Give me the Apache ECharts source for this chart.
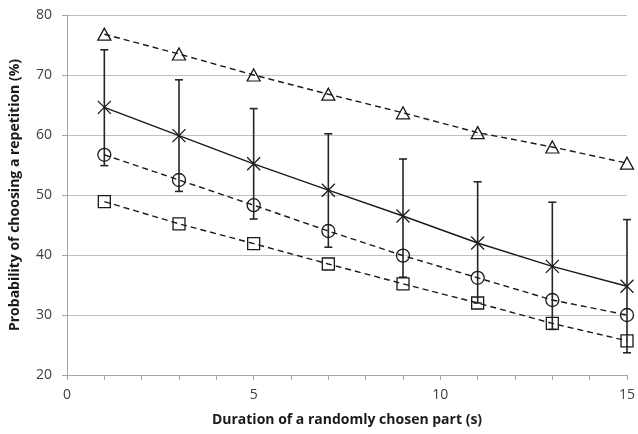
<!DOCTYPE html>
<html>
<head>
<meta charset="utf-8">
<script src="https://cdn.jsdelivr.net/npm/echarts@6/dist/echarts.min.js"></script>
<style>
html, body { margin: 0; padding: 0; background: #fff; }
#chart { width: 638px; height: 434px; }
</style>
</head>
<body>
<div id="chart"></div>
<script>
var durations = [1, 3, 5, 7, 9, 11, 13, 15];
var triangleVals = [76.8, 73.5, 70.0, 66.8, 63.7, 60.4, 58.0, 55.3];
var crossVals = [64.6, 59.9, 55.2, 50.8, 46.5, 42.0, 38.1, 34.8];
var crossUpper = [74.2, 69.2, 64.4, 60.2, 56.0, 52.2, 48.8, 45.9];
var crossLower = [54.9, 50.6, 46.0, 41.3, 36.3, 32.0, 27.6, 23.7];
var circleVals = [56.7, 52.5, 48.3, 44.0, 39.9, 36.2, 32.5, 30.0];
var squareVals = [48.9, 45.2, 41.9, 38.5, 35.2, 32.0, 28.6, 25.7];

function pairs(vals) {
	return durations.map(function (d, i) { return [d, vals[i]]; });
}

var errData = durations.map(function (d, i) { return [d, crossLower[i], crossUpper[i]]; });
var font = '"Open Sans", "Liberation Sans", sans-serif';
var hollow = { color: 'rgba(0,0,0,0)', borderColor: '#1a1a1a', borderWidth: 1.3 };

var chart = echarts.init(document.getElementById('chart'));
var option = {
	animation: false,
	textStyle: { fontFamily: font },
	grid: { left: 66, right: 9, top: 15, bottom: 59 },
	xAxis: {
		type: 'value',
		min: 0, max: 15, interval: 5,
		name: 'Duration of a randomly chosen part (s)',
		nameLocation: 'middle', nameGap: 38,
		nameTextStyle: { fontFamily: font, fontSize: 14, fontWeight: 'bold', color: '#1a1a1a' },
		axisLine: { lineStyle: { color: '#a6a6a6', width: 1 } },
		axisTick: { show: true, length: 5, lineStyle: { color: '#a6a6a6' } },
		minorTick: { show: true, splitNumber: 5, length: 5, lineStyle: { color: '#a6a6a6' } },
		axisLabel: { fontFamily: font, fontSize: 14, color: '#404040', margin: 13 },
		splitLine: { show: false }
	},
	yAxis: {
		type: 'value',
		min: 20, max: 80, interval: 10,
		name: 'Probability of choosing a repetition (%)',
		nameLocation: 'middle', nameGap: 45,
		nameTextStyle: { fontFamily: font, fontSize: 14, fontWeight: 'bold', color: '#1a1a1a' },
		axisLine: { show: true, lineStyle: { color: '#a6a6a6', width: 1 } },
		axisTick: { show: true, length: 5, lineStyle: { color: '#a6a6a6' } },
		axisLabel: { fontFamily: font, fontSize: 14, color: '#404040', margin: 15 },
		splitLine: { lineStyle: { color: '#bfbfbf', width: 1 } }
	},
	series: [
		{
			type: 'custom',
			name: 'error',
			data: errData,
			z: 1,
			renderItem: function (params, api) {
				var x = api.value(0);
				var lo = api.coord([x, api.value(1)]);
				var hi = api.coord([x, api.value(2)]);
				var w = 4;
				var st = { stroke: '#262626', lineWidth: 1.6 };
				return {
					type: 'group',
					children: [
						{ type: 'line', shape: { x1: lo[0], y1: lo[1], x2: hi[0], y2: hi[1] }, style: st },
						{ type: 'line', shape: { x1: hi[0] - w, y1: hi[1], x2: hi[0] + w, y2: hi[1] }, style: st },
						{ type: 'line', shape: { x1: lo[0] - w, y1: lo[1], x2: lo[0] + w, y2: lo[1] }, style: st }
					]
				};
			}
		},
		{
			type: 'line', name: 'triangle', data: pairs(triangleVals), z: 3,
			symbol: 'triangle', symbolSize: [13, 12],
			lineStyle: { color: '#1a1a1a', width: 1.4, type: [6, 4] },
			itemStyle: hollow
		},
		{
			type: 'line', name: 'cross', data: pairs(crossVals), z: 3,
			symbol: 'path://M0,0L10,10M10,0L0,10', symbolSize: 13,
			lineStyle: { color: '#1a1a1a', width: 1.4 },
			itemStyle: hollow
		},
		{
			type: 'line', name: 'circle', data: pairs(circleVals), z: 3,
			symbol: 'circle', symbolSize: 13,
			lineStyle: { color: '#1a1a1a', width: 1.4, type: [6, 4] },
			itemStyle: hollow
		},
		{
			type: 'line', name: 'square', data: pairs(squareVals), z: 3,
			symbol: 'rect', symbolSize: 12,
			lineStyle: { color: '#1a1a1a', width: 1.4, type: [6, 4] },
			itemStyle: hollow
		}
	]
};
chart.setOption(option);
</script>
</body>
</html>
